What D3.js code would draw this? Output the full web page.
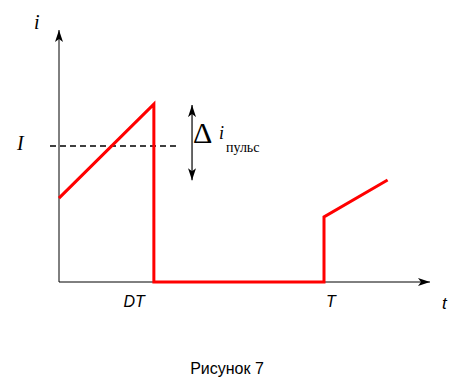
<!DOCTYPE html>
<html>
<head>
<meta charset="utf-8">
<script src="https://cdn.jsdelivr.net/npm/d3@7"></script>
<style>
  body { margin: 0; background: #fff; }
</style>
</head>
<body>
<div id="chart"></div>
<script>
// Pulse current waveform (time in % of period T, current in % of axis height)
const timeVals = [0, 35.8, 35.8, 100, 100, 124];
const currentVals = [33.3, 70.6, 0, 0, 25.8, 40.5];
const tickVals = [35.8, 100];
const tickLabels = ["DT", "T"];
const meanCurrent = 54;
const rippleTop = 69.8, rippleBottom = 41.6, rippleTime = 50.2;

const width = 464, height = 390;

const svg = d3
  .select("#chart")
  .append("svg")
  .attr("width", width)
  .attr("height", height);

// scales: origin at (59, 282)
const x = d3.scaleLinear().domain([0, 100]).range([59, 324]);
const y = d3.scaleLinear().domain([0, 100]).range([282, 30]);

// arrowheads
const defs = svg.append("defs");
defs
  .append("marker")
  .attr("id", "arrow")
  .attr("viewBox", "0 0 12 8")
  .attr("refX", 12)
  .attr("refY", 4)
  .attr("markerWidth", 12)
  .attr("markerHeight", 8)
  .attr("markerUnits", "userSpaceOnUse")
  .attr("orient", "auto-start-reverse")
  .append("path")
  .attr("d", "M0,0L12,4L0,8L3,4Z")
  .attr("fill", "#000");

// axes
svg
  .append("line")
  .attr("x1", x(0))
  .attr("y1", y(0))
  .attr("x2", x(140))
  .attr("y2", y(0))
  .attr("stroke", "#000")
  .attr("stroke-width", 1)
  .attr("marker-end", "url(#arrow)");

svg
  .append("line")
  .attr("x1", x(0))
  .attr("y1", y(0))
  .attr("x2", x(0))
  .attr("y2", y(100))
  .attr("stroke", "#000")
  .attr("stroke-width", 1)
  .attr("marker-end", "url(#arrow)");

// mean current level (dashed)
svg
  .append("line")
  .attr("x1", x(-3.4))
  .attr("x2", x(44.5))
  .attr("y1", y(meanCurrent))
  .attr("y2", y(meanCurrent))
  .attr("stroke", "#000")
  .attr("stroke-width", 1.5)
  .attr("stroke-dasharray", "6,4");

// ripple arrow
svg
  .append("line")
  .attr("x1", x(rippleTime))
  .attr("x2", x(rippleTime))
  .attr("y1", y(rippleTop) - 1)
  .attr("y2", y(rippleBottom) + 3)
  .attr("stroke", "#000")
  .attr("stroke-width", 1.2)
  .attr("marker-start", "url(#arrow)")
  .attr("marker-end", "url(#arrow)");

// current waveform
const line = d3
  .line()
  .x((d, i) => x(timeVals[i]))
  .y((d) => y(d));

svg
  .append("path")
  .datum(currentVals)
  .attr("d", line)
  .attr("fill", "none")
  .attr("stroke", "#ff0000")
  .attr("stroke-width", 3)
  .attr("stroke-linejoin", "miter");

// labels
const serif = "'Liberation Serif', 'DejaVu Serif', serif";
const sans = "'Liberation Sans', Arial, sans-serif";

svg
  .append("text")
  .attr("x", 34)
  .attr("y", 29)
  .style("font-family", serif)
  .style("font-style", "italic")
  .style("font-size", "20px")
  .text("i");

svg
  .append("text")
  .attr("x", 17)
  .attr("y", y(meanCurrent) + 4)
  .style("font-family", serif)
  .style("font-style", "italic")
  .style("font-size", "20px")
  .text("I");

svg
  .append("text")
  .attr("x", x(rippleTime) + 1)
  .attr("y", 143)
  .style("font-family", serif)
  .style("font-size", "30px")
  .text("Δ");

svg
  .append("text")
  .attr("x", 219)
  .attr("y", 139)
  .style("font-family", serif)
  .style("font-style", "italic")
  .style("font-size", "18px")
  .text("i");

svg
  .append("text")
  .attr("x", 226)
  .attr("y", 152)
  .style("font-family", serif)
  .style("font-size", "14px")
  .text("пульс");

svg
  .selectAll(".tick-label")
  .data(tickVals)
  .enter()
  .append("text")
  .attr("class", "tick-label")
  .attr("x", (d, i) => (i === 0 ? x(d) - 9 : x(d) + 2))
  .attr("y", 307)
  .attr("text-anchor", (d, i) => (i === 0 ? "end" : "start"))
  .style("font-family", sans)
  .style("font-style", "italic")
  .style("font-size", "16px")
  .text((d, i) => tickLabels[i]);

svg
  .append("text")
  .attr("x", 442)
  .attr("y", 309)
  .style("font-family", sans)
  .style("font-style", "italic")
  .style("font-size", "17px")
  .text("t");

svg
  .append("text")
  .attr("x", 227)
  .attr("y", 374)
  .attr("text-anchor", "middle")
  .style("font-family", sans)
  .style("font-size", "16px")
  .text("Рисунок 7");
</script>
</body>
</html>
